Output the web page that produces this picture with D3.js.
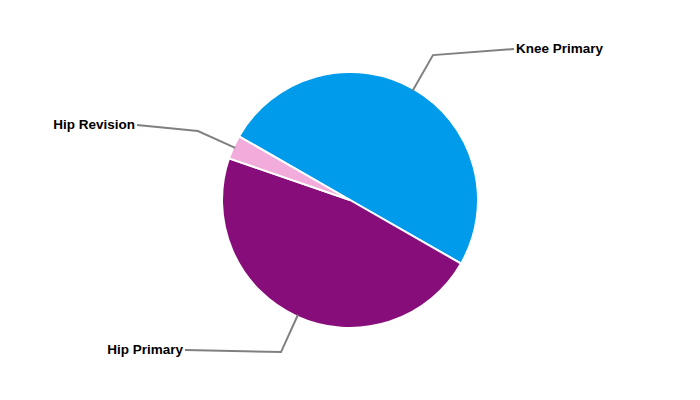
<!DOCTYPE html>
<html><head><meta charset="utf-8">
<script src="https://cdn.jsdelivr.net/npm/d3@7"></script>
<style>body{margin:0;background:#fff}svg{display:block}</style>
</head><body>
<svg id="c" width="700" height="400"></svg>
<script>
const categories = ["Knee Primary", "Hip Primary", "Hip Revision"];
const values = [50, 47, 3];
const colors = ["#009BEA", "#870E7A", "#F2ACDC"];

const W = 700, H = 400, cx = 350, cy = 200, R = 128, elbowR = 167;
const deg = Math.PI / 180;
const start = -60.2 * deg;
// label anchor positions (layout only)
const labelPos = {
  "Knee Primary": {x: 516, y: 48, anchor: "start"},
  "Hip Primary": {x: 183, y: 349, anchor: "end"},
  "Hip Revision": {x: 135, y: 124, anchor: "end"}
};

const data = categories.map((c, i) => ({name: c, value: values[i], color: colors[i]}));
const pie = d3.pie().sort(null).value(d => d.value).startAngle(start).endAngle(start + 2 * Math.PI);
const arcs = pie(data);
const arc = d3.arc().innerRadius(0).outerRadius(R);

const svg = d3.select("#c");
const g = svg.append("g").attr("transform", `translate(${cx},${cy})`);
g.selectAll("path.slice").data(arcs).enter().append("path")
  .attr("class", "slice")
  .attr("d", arc)
  .attr("fill", d => d.data.color)
  .attr("stroke", "#fff").attr("stroke-width", 2).attr("stroke-linejoin", "round");

const pt = (a, r) => [cx + r * Math.sin(a), cy - r * Math.cos(a)];
arcs.forEach(d => {
  const m = (d.startAngle + d.endAngle) / 2;
  const p0 = pt(m, R - 2), p1 = pt(m, elbowR);
  const lp = labelPos[d.data.name];
  const p2 = [lp.x + (lp.anchor === "start" ? -2 : 2), lp.y + 1];
  svg.append("polyline")
    .attr("points", [p0, p1, p2].map(p => p.join(",")).join(" "))
    .attr("fill", "none").attr("stroke", "#808080").attr("stroke-width", 2);
  svg.append("text")
    .attr("x", lp.x).attr("y", lp.y).attr("dy", "0.35em")
    .attr("text-anchor", lp.anchor)
    .attr("font-family", "Liberation Sans, Arial, sans-serif")
    .attr("font-weight", "bold").attr("font-size", 13.5)
    .attr("fill", "#000")
    .text(d.data.name);
});
</script>
</body></html>
